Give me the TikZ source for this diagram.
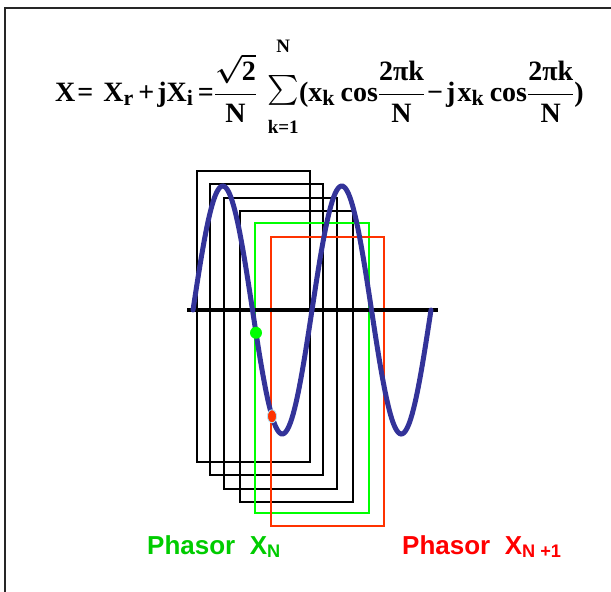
\RequirePackage{fix-cm}
\documentclass[tikz,border=0pt]{standalone}
\usepackage{amsmath}
\usepackage{fontspec}
\setmainfont{Liberation Serif}
\newfontfamily\labelfont{Liberation Sans}
\usetikzlibrary{shapes.geometric}
\definecolor{wavecol}{RGB}{51,51,153}
\definecolor{wingreen}{RGB}{0,255,0}
\definecolor{winred}{RGB}{255,51,0}
\definecolor{txtgreen}{RGB}{0,204,0}
\definecolor{txtred}{RGB}{255,0,0}
\newcommand\wavey[1]{310-124*sin(((#1)-193)/119*360)}
\newcommand\eqsub[1]{\raisebox{-4pt}{\fontsize{22}{26}\selectfont #1}}
\newcommand\eqlim[1]{\text{\fontsize{19}{22}\selectfont #1}}
\tikzset{
  framebox/.style={draw=black!85, line width=1.5pt},
  axisline/.style={draw=black, line width=4pt},
  winbox/.style={draw=black, line width=2pt},
  greenwin/.style={winbox, draw=wingreen},
  redwin/.style={winbox, draw=winred},
  wave/.style={draw=wavecol, line width=5pt, line cap=round},
  eqtext/.style={anchor=base west, inner sep=0pt,
                 font=\fontsize{28}{34}\selectfont\bfseries\boldmath},
  phasorlabel/.style={anchor=base west, inner sep=0pt,
                      font=\labelfont\fontsize{26}{30}\selectfont\bfseries},
  greendot/.style={circle, fill=wingreen, inner sep=0pt, minimum size=12pt},
  reddot/.style={ellipse, fill=winred, draw=cyan!30, line width=0.8pt,
                 inner sep=0pt, minimum width=9pt, minimum height=13pt},
}
\begin{document}
\begin{tikzpicture}[x=1pt, y=-1pt]
    \useasboundingbox (0,0) rectangle (611,592);
    \draw[framebox] (5,8) rectangle (640,620);
    \node[eqtext] (eq) at (55,101) {X\hspace{2pt}=\hspace{10pt}X\eqsub{r}\hspace{5pt}+\hspace{3pt}jX\eqsub{i}\hspace{5pt}=%
        $\dfrac{\sqrt{\text{2}}}{\text{N}}\hspace{5pt}%
        \mathop{\raisebox{2pt}{\scalebox{1.2}{$\textstyle\sum$}}}\limits_{\eqlim{\rule{0pt}{24pt}k=1}}^{\eqlim{N}\rule[-20pt]{0pt}{20pt}}$%
        (x\eqsub{k}\hspace{6pt}cos$\dfrac{\text{2πk}}{\text{N}}$\hspace{2pt}−\hspace{3pt}j\hspace{2pt}x\eqsub{k}%
        \hspace{6pt}cos$\dfrac{\text{2πk}}{\text{N}}$)};
    \foreach \l/\t in {197/171, 210/184, 224/198, 240/211}
        \draw[winbox] (\l,\t) rectangle +(113,291);
    \draw[greenwin] (255,223) rectangle +(114,290);
    \draw[redwin] (271,237) rectangle +(113,289);
    \coordinate (axl) at (187,310);
    \coordinate (axr) at (438,310);
    \draw[axisline] (axl) -- (axr);
    \draw[wave] plot[domain=193:431, samples=160, smooth] (\x, {\wavey{\x}});
    \node[greendot] (xn) at (256,{\wavey{256}}) {};
    \node[reddot] (xn1) at (272,{\wavey{272}}) {};
    \node[phasorlabel, text=txtgreen] (lbln) at (147,554)
        {Phasor\ \ $\text{X}_\text{N}$};
    \node[phasorlabel, text=txtred] (lbln1) at (402,554)
        {Phasor\ \ $\text{X}_\text{N +1}$};
\end{tikzpicture}
\end{document}
